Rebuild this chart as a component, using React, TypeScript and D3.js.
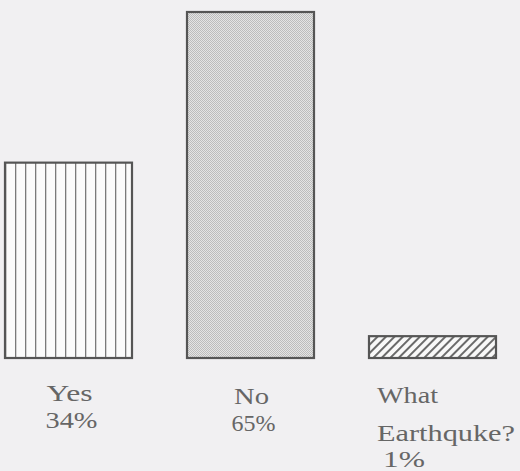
import React from "react";
import * as d3 from "d3";

// Data
const categories = ["Yes", "No", "What Earthquke?"];
const labelLines = [["Yes"], ["No"], ["What", "Earthquke?"]];
const percentValues = [34, 65, 1];
// bar heights as drawn in the original graphic (not drawn to scale), in percent units
const drawnHeights = [36.7, 65, 4.1];

const W = 520;
const H = 471;
const FS = 24;

// widths of the labels in the reference (the scanned type is wide)
const refWidth: Record<string, number> = {
  Yes: 46, "34%": 52, No: 35, "65%": 44, What: 61, "Earthquke?": 138, "1%": 42,
};

export default function App() {
  const x = d3.scalePoint<string>().domain(categories).range([68.5, 432.5]);
  const y = d3.scaleLinear().domain([0, 65]).range([358, 12]);
  const bw = 127;
  const fills = ["url(#vlines)", "url(#checker)", "url(#diag)"];
  const fmt = (v: number) => `${v}%`;

  const T = (props: { x: number; y: number; anchor: string; t: string }) => (
    <text
      x={props.x}
      y={props.y}
      textAnchor={props.anchor}
      fontFamily="Liberation Serif"
      fontSize={FS}
      fill="#666"
      textLength={refWidth[props.t]}
      lengthAdjust="spacingAndGlyphs"
    >
      {props.t}
    </text>
  );

  return (
    <svg width={W} height={H} style={{ position: "absolute", left: 0, top: 0 }}>
      <defs>
        <pattern id="vlines" patternUnits="userSpaceOnUse" x={x("Yes")! - bw / 2} y={0} width={10} height={10}>
          <rect width={10} height={10} fill="#fbfbfb" />
          <line x1={0.5} y1={0} x2={0.5} y2={10} stroke="#7a7a7a" strokeWidth={1.6} />
        </pattern>
        <pattern id="checker" patternUnits="userSpaceOnUse" width={2} height={2}>
          <rect width={2} height={2} fill="#e4e4e4" />
          <rect width={1} height={1} fill="#bcbcbc" />
          <rect x={1} y={1} width={1} height={1} fill="#bcbcbc" />
        </pattern>
        <pattern id="diag" patternUnits="userSpaceOnUse" width={6} height={6} patternTransform="rotate(45)">
          <rect width={6} height={6} fill="#f8f8f8" />
          <line x1={1} y1={0} x2={1} y2={6} stroke="#6a6a6a" strokeWidth={2} />
        </pattern>
      </defs>
      <rect width={W} height={H} fill="#f1f0f2" />
      {categories.map((c, i) => {
        const cx = x(c)!;
        const top = y(drawnHeights[i]);
        return (
          <rect
            key={c}
            x={cx - bw / 2}
            y={top}
            width={bw}
            height={y(0) - top}
            fill={fills[i]}
            stroke="#555"
            strokeWidth={2.2}
          />
        );
      })}
      {categories.map((c, i) => {
        const cx = x(c)!;
        const lines = labelLines[i];
        const isLast = i === categories.length - 1;
        const anchor = isLast ? "start" : "middle";
        const lx = isLast ? cx - bw / 2 + 8 : cx + 1;
        const baseY = isLast ? 403 : i === 0 ? 401 : 404;
        const gap = isLast ? 38 : 0;
        return (
          <g key={c}>
            {lines.map((t, j) => (
              <T key={j} x={lx} y={baseY + j * gap} anchor={anchor} t={t} />
            ))}
            <T
              x={isLast ? lx + 6 : lx + 2}
              y={isLast ? baseY + gap * (lines.length - 1) + 26 : baseY + 27}
              anchor={anchor}
              t={fmt(percentValues[i])}
            />
          </g>
        );
      })}
    </svg>
  );
}
